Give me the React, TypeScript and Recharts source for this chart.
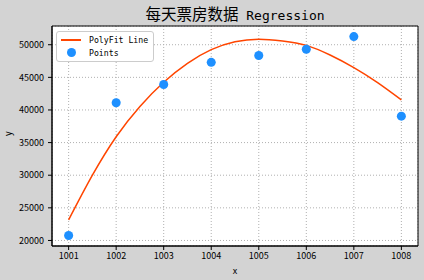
import {
  ComposedChart,
  Line,
  Scatter,
  XAxis,
  YAxis,
  CartesianGrid,
  Legend,
  ReferenceArea,
} from 'recharts';

// daily box office points
const days = [1001, 1002, 1003, 1004, 1005, 1006, 1007, 1008];
const boxOffice = [20750, 41100, 43900, 47300, 48350, 49300, 51250, 39050];

// fitted curve at half-day steps
const fitDays = [
  1001, 1001.5, 1002, 1002.5, 1003, 1003.5, 1004, 1004.5,
  1005, 1005.5, 1006, 1006.5, 1007, 1007.5, 1008,
];
const fitValues = [
  23150, 30000, 35900, 40550, 44250, 47150, 49250, 50460,
  50850, 50570, 49900, 48420, 46500, 44200, 41550,
];

const xTicks = [1001, 1002, 1003, 1004, 1005, 1006, 1007, 1008];
const yTicks = [20000, 25000, 30000, 35000, 40000, 45000, 50000];

const pointData = days.map((x, i) => ({ x, y: boxOffice[i] }));
const fitData = fitDays.map((x, i) => ({ x, fit: fitValues[i] }));

const X_DOMAIN = [1000.65, 1008.35];
const Y_DOMAIN = [19150, 52870];

const FONT = '"Noto Sans CJK SC", "DejaVu Sans", sans-serif';
const MONO = '"DejaVu Sans Mono", "Liberation Mono", monospace';
const LINE_COLOR = '#ff4500';
const POINT_COLOR = '#1e90ff';

const LegendBox = () => (
  <div
    style={{
      background: '#fff',
      border: '1px solid #ccc',
      borderRadius: 3,
      padding: '2px 5px 2px 4px',
      fontSize: 8.2,
      lineHeight: '12.5px',
      color: '#000',
      fontFamily: MONO,
    }}
  >
    <div style={{ display: 'flex', alignItems: 'center' }}>
      <span style={{ display: 'inline-block', width: 20, height: 2, background: LINE_COLOR, marginRight: 8 }} />
      PolyFit Line
    </div>
    <div style={{ display: 'flex', alignItems: 'center' }}>
      <span style={{ display: 'inline-block', width: 20, marginRight: 8, textAlign: 'center', lineHeight: 0 }}>
        <span style={{ display: 'inline-block', width: 9, height: 9, borderRadius: '50%', background: POINT_COLOR }} />
      </span>
      Points
    </div>
  </div>
);

export default function App() {
  return (
    <div
      style={{
        position: 'absolute',
        left: 0,
        top: 0,
        width: 424,
        height: 280,
        background: '#d3d3d3',
        fontFamily: FONT,
      }}
    >
      <div
        style={{
          position: 'absolute',
          left: 52,
          width: 366,
          top: 3,
          textAlign: 'center',
          color: '#000',
          lineHeight: '20px',
          whiteSpace: 'nowrap',
        }}
      >
        <span style={{ fontSize: 15.5 }}>每天票房数据</span>
        <span style={{ fontSize: 13, fontFamily: MONO }}> Regression</span>
      </div>
      <ComposedChart
        width={424}
        height={280}
        margin={{ top: 26, right: 6, bottom: 0, left: 0 }}
        style={{ fontFamily: FONT }}
      >
        <CartesianGrid stroke="#b0b0b0" strokeDasharray="1 2" fill="#fff" fillOpacity={1} />
        <XAxis
          dataKey="x"
          type="number"
          domain={X_DOMAIN}
          ticks={xTicks}
          allowDataOverflow
          height={34}
          stroke="#000"
          tickSize={4}
          tickMargin={3}
          tick={{ fontSize: 9, fill: '#000' }}
          label={{ value: 'x', position: 'insideBottom', offset: 6, fontSize: 9, fill: '#000' }}
        />
        <YAxis
          type="number"
          domain={Y_DOMAIN}
          ticks={yTicks}
          allowDataOverflow
          width={52}
          stroke="#000"
          tickSize={4}
          tickMargin={4}
          tick={{ fontSize: 9, fill: '#000' }}
          label={{ value: 'y', angle: -90, position: 'insideLeft', offset: 8, fontSize: 9, fill: '#000' }}
        />
        <ReferenceArea
          x1={X_DOMAIN[0]}
          x2={X_DOMAIN[1]}
          y1={Y_DOMAIN[0]}
          y2={Y_DOMAIN[1]}
          fill="none"
          stroke="#000"
          strokeWidth={1}
          ifOverflow="extendDomain"
        />
        <Line
          data={fitData}
          dataKey="fit"
          type="natural"
          stroke={LINE_COLOR}
          strokeWidth={1.5}
          dot={false}
          isAnimationActive={false}
          name="PolyFit Line"
        />
        <Scatter
          data={pointData}
          dataKey="y"
          fill={POINT_COLOR}
          isAnimationActive={false}
          name="Points"
        />
        <Legend
          layout="vertical"
          align="center"
          verticalAlign="middle"
          content={() => <LegendBox />}
          wrapperStyle={{ left: 56, top: 31, width: 'auto' }}
        />
      </ComposedChart>
    </div>
  );
}
